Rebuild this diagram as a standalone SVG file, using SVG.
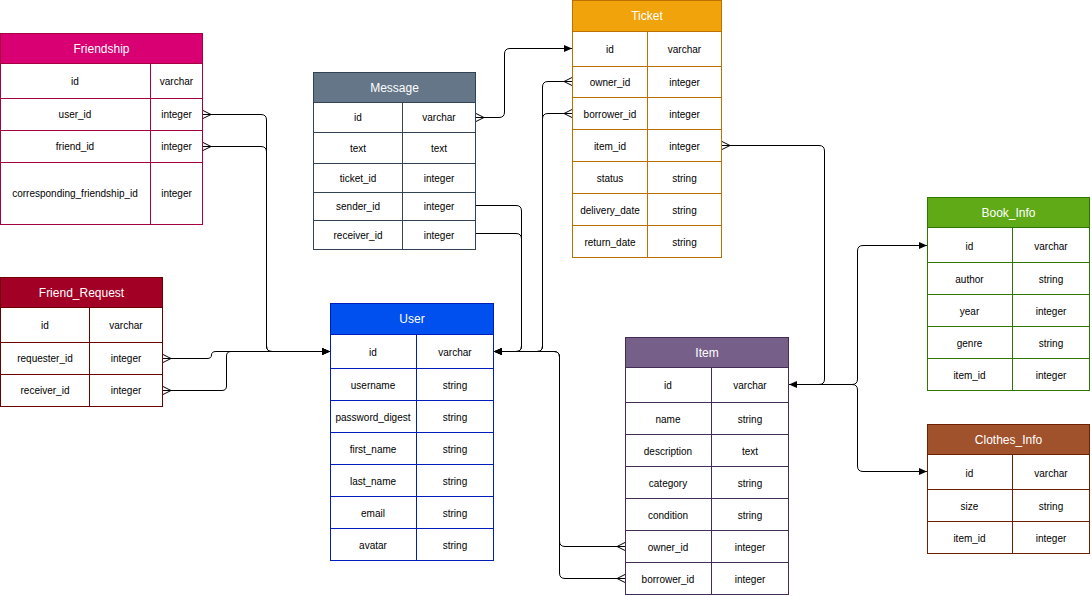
<svg xmlns="http://www.w3.org/2000/svg" width="1092" height="596" viewBox="0 0 1092 596">
<style>
text{font-family:"Liberation Sans",Arial,Helvetica,sans-serif;text-anchor:middle;dominant-baseline:central}
.h{font-size:12px;fill:#ffffff}
.c{font-size:10px;fill:#000000}
.bd{fill:#ffffff}
.ln{fill:none}
.friendship .hd{fill:#d80073}.friendship rect,.friendship path{stroke:#A50040}
.message .hd{fill:#647687}.message rect,.message path{stroke:#314354}
.ticket .hd{fill:#f0a30a}.ticket rect,.ticket path{stroke:#BD7000}
.freq .hd{fill:#a20025}.freq rect,.freq path{stroke:#6F0000}
.user .hd{fill:#0050ef}.user rect,.user path{stroke:#001DBC}
.item .hd{fill:#76608a}.item rect,.item path{stroke:#432D57}
.book .hd{fill:#60a917}.book rect,.book path{stroke:#2D7600}
.clothes .hd{fill:#a0522d}.clothes rect,.clothes path{stroke:#6D1F00}
.edge{fill:none;stroke:#000000;stroke-width:1}
</style>
<defs>
<marker id="arrow" viewBox="-10 -6 12 12" refX="0" refY="0" markerWidth="12" markerHeight="12" markerUnits="userSpaceOnUse" orient="auto">
<path d="M0,0 L-8,-3.5 L-8,3.5 Z" fill="#000000"/>
</marker>
<marker id="many" viewBox="-10 -6 12 12" refX="0" refY="0" markerWidth="12" markerHeight="12" markerUnits="userSpaceOnUse" orient="auto-start-reverse">
<path d="M0,-4 L-8,0 L0,4" fill="none" stroke="#000000" stroke-width="1"/>
</marker>
</defs>
<rect x="0" y="0" width="1092" height="596" fill="#ffffff"/>

<g id="connectors">
<path class="edge" marker-start="url(#many)" marker-end="url(#arrow)" d="M203,114.5 H261 Q266.5,114.5 266.5,120 V346 Q266.5,351.5 272,351.5 H330"/>
<path class="edge" marker-start="url(#many)" marker-end="url(#arrow)" d="M203,146.5 H261 Q266.5,146.5 266.5,152 V346 Q266.5,351.5 272,351.5 H330"/>
<path class="edge" marker-start="url(#many)" marker-end="url(#arrow)" d="M163,358.5 H207 Q211.5,358.5 211.5,355 Q211.5,351.5 216,351.5 H330"/>
<path class="edge" marker-start="url(#many)" marker-end="url(#arrow)" d="M163,390.5 H222 Q226.5,390.5 226.5,386 V356 Q226.5,351.5 231,351.5 H330"/>
<path class="edge" marker-end="url(#arrow)" d="M476,205.5 H516 Q521.5,205.5 521.5,211 V346 Q521.5,351.5 516,351.5 H494"/>
<path class="edge" marker-end="url(#arrow)" d="M476,233.5 H516 Q521.5,233.5 521.5,239 V346 Q521.5,351.5 516,351.5 H494"/>
<path class="edge" marker-start="url(#many)" marker-end="url(#arrow)" d="M572,81.5 H548 Q542.5,81.5 542.5,87 V346 Q542.5,351.5 537,351.5 H494"/>
<path class="edge" marker-start="url(#many)" marker-end="url(#arrow)" d="M572,113.5 H548 Q542.5,113.5 542.5,119 V346 Q542.5,351.5 537,351.5 H494"/>
<path class="edge" marker-start="url(#many)" marker-end="url(#arrow)" d="M625,546.5 H565 Q559.5,546.5 559.5,541 V357 Q559.5,351.5 554,351.5 H494"/>
<path class="edge" marker-start="url(#many)" marker-end="url(#arrow)" d="M625,578.5 H565 Q559.5,578.5 559.5,573 V357 Q559.5,351.5 554,351.5 H494"/>
<path class="edge" marker-start="url(#many)" marker-end="url(#arrow)" d="M476,117.5 H499 Q504.5,117.5 504.5,112 V54 Q504.5,48.5 510,48.5 H572"/>
<path class="edge" marker-start="url(#many)" marker-end="url(#arrow)" d="M722,145.5 H819 Q824.5,145.5 824.5,151 V379 Q824.5,384.5 819,384.5 H789"/>
<path class="edge" marker-end="url(#arrow)" d="M789,384.5 H852 Q857.5,384.5 857.5,379 V251 Q857.5,245.5 863,245.5 H927"/>
<path class="edge" marker-end="url(#arrow)" d="M789,384.5 H852 Q857.5,384.5 857.5,390 V466 Q857.5,471.5 863,471.5 H927"/>
</g>

<g id="friendship" class="friendship">
<rect class="hd" x="0.5" y="33.5" width="202" height="30"/>
<rect class="bd" x="0.5" y="63.5" width="202" height="161"/>
<path class="ln" d="M0.5,98.5H202.5M0.5,130.5H202.5M0.5,162.5H202.5M150.5,63.5V224.5"/>
<text class="h" x="101.5" y="48.5">Friendship</text>
<text class="c" x="75" y="81">id</text><text class="c" x="176.5" y="81">varchar</text>
<text class="c" x="75" y="114.5">user_id</text><text class="c" x="176.5" y="114.5">integer</text>
<text class="c" x="75" y="146.5">friend_id</text><text class="c" x="176.5" y="146.5">integer</text>
<text class="c" x="75" y="193.5">corresponding_friendship_id</text><text class="c" x="176.5" y="193.5">integer</text>
</g>

<g id="message" class="message">
<rect class="hd" x="313.5" y="72.5" width="162" height="30"/>
<rect class="bd" x="313.5" y="102.5" width="162" height="147"/>
<path class="ln" d="M313.5,132.5H475.5M313.5,163.5H475.5M313.5,192.5H475.5M313.5,220.5H475.5M402.5,102.5V249.5"/>
<text class="h" x="394.5" y="87.5">Message</text>
<text class="c" x="358" y="117.5">id</text><text class="c" x="439" y="117.5">varchar</text>
<text class="c" x="358" y="148">text</text><text class="c" x="439" y="148">text</text>
<text class="c" x="358" y="178">ticket_id</text><text class="c" x="439" y="178">integer</text>
<text class="c" x="358" y="206">sender_id</text><text class="c" x="439" y="206">integer</text>
<text class="c" x="358" y="235">receiver_id</text><text class="c" x="439" y="235">integer</text>
</g>

<g id="ticket" class="ticket">
<rect class="hd" x="572.5" y="0.5" width="149" height="31"/>
<rect class="bd" x="572.5" y="31.5" width="149" height="226"/>
<path class="ln" d="M572.5,66.5H721.5M572.5,97.5H721.5M572.5,129.5H721.5M572.5,161.5H721.5M572.5,193.5H721.5M572.5,225.5H721.5M647.5,31.5V257.5"/>
<text class="h" x="647" y="16">Ticket</text>
<text class="c" x="610" y="49">id</text><text class="c" x="684.5" y="49">varchar</text>
<text class="c" x="610" y="82">owner_id</text><text class="c" x="684.5" y="82">integer</text>
<text class="c" x="610" y="114">borrower_id</text><text class="c" x="684.5" y="114">integer</text>
<text class="c" x="610" y="146">item_id</text><text class="c" x="684.5" y="146">integer</text>
<text class="c" x="610" y="178">status</text><text class="c" x="684.5" y="178">string</text>
<text class="c" x="610" y="210">delivery_date</text><text class="c" x="684.5" y="210">string</text>
<text class="c" x="610" y="242">return_date</text><text class="c" x="684.5" y="242">string</text>
</g>

<g id="friend_request" class="freq">
<rect class="hd" x="0.5" y="277.5" width="162" height="30"/>
<rect class="bd" x="0.5" y="307.5" width="162" height="99"/>
<path class="ln" d="M0.5,342.5H162.5M0.5,374.5H162.5M89.5,307.5V406.5"/>
<text class="h" x="81.5" y="292.5">Friend_Request</text>
<text class="c" x="45" y="325.5">id</text><text class="c" x="126" y="325.5">varchar</text>
<text class="c" x="45" y="358.5">requester_id</text><text class="c" x="126" y="358.5">integer</text>
<text class="c" x="45" y="390.5">receiver_id</text><text class="c" x="126" y="390.5">integer</text>
</g>

<g id="user" class="user">
<rect class="hd" x="330.5" y="303.5" width="163" height="31"/>
<rect class="bd" x="330.5" y="334.5" width="163" height="226"/>
<path class="ln" d="M330.5,368.5H493.5M330.5,400.5H493.5M330.5,432.5H493.5M330.5,464.5H493.5M330.5,496.5H493.5M330.5,528.5H493.5M416.5,334.5V560.5"/>
<text class="h" x="412" y="319">User</text>
<text class="c" x="373" y="352">id</text><text class="c" x="455" y="352">varchar</text>
<text class="c" x="373" y="385">username</text><text class="c" x="455" y="385">string</text>
<text class="c" x="373" y="417">password_digest</text><text class="c" x="455" y="417">string</text>
<text class="c" x="373" y="449">first_name</text><text class="c" x="455" y="449">string</text>
<text class="c" x="373" y="481">last_name</text><text class="c" x="455" y="481">string</text>
<text class="c" x="373" y="513">email</text><text class="c" x="455" y="513">string</text>
<text class="c" x="373" y="545">avatar</text><text class="c" x="455" y="545">string</text>
</g>

<g id="item" class="item">
<rect class="hd" x="625.5" y="337.5" width="163" height="30"/>
<rect class="bd" x="625.5" y="367.5" width="163" height="227"/>
<path class="ln" d="M625.5,402.5H788.5M625.5,434.5H788.5M625.5,466.5H788.5M625.5,498.5H788.5M625.5,530.5H788.5M625.5,562.5H788.5M711.5,367.5V594.5"/>
<text class="h" x="707" y="352.5">Item</text>
<text class="c" x="668" y="385">id</text><text class="c" x="750" y="385">varchar</text>
<text class="c" x="668" y="419">name</text><text class="c" x="750" y="419">string</text>
<text class="c" x="668" y="451">description</text><text class="c" x="750" y="451">text</text>
<text class="c" x="668" y="483">category</text><text class="c" x="750" y="483">string</text>
<text class="c" x="668" y="515">condition</text><text class="c" x="750" y="515">string</text>
<text class="c" x="668" y="547">owner_id</text><text class="c" x="750" y="547">integer</text>
<text class="c" x="668" y="579">borrower_id</text><text class="c" x="750" y="579">integer</text>
</g>

<g id="book_info" class="book">
<rect class="hd" x="927.5" y="197.5" width="162" height="30"/>
<rect class="bd" x="927.5" y="227.5" width="162" height="163"/>
<path class="ln" d="M927.5,262.5H1089.5M927.5,294.5H1089.5M927.5,326.5H1089.5M927.5,358.5H1089.5M1012.5,227.5V390.5"/>
<text class="h" x="1008.5" y="212.5">Book_Info</text>
<text class="c" x="969.5" y="246">id</text><text class="c" x="1051" y="246">varchar</text>
<text class="c" x="969.5" y="279">author</text><text class="c" x="1051" y="279">string</text>
<text class="c" x="969.5" y="311">year</text><text class="c" x="1051" y="311">integer</text>
<text class="c" x="969.5" y="343">genre</text><text class="c" x="1051" y="343">string</text>
<text class="c" x="969.5" y="375">item_id</text><text class="c" x="1051" y="375">integer</text>
</g>

<g id="clothes_info" class="clothes">
<rect class="hd" x="927.5" y="424.5" width="162" height="30"/>
<rect class="bd" x="927.5" y="454.5" width="162" height="99"/>
<path class="ln" d="M927.5,489.5H1089.5M927.5,521.5H1089.5M1012.5,454.5V553.5"/>
<text class="h" x="1008.5" y="439.5">Clothes_Info</text>
<text class="c" x="969.5" y="473">id</text><text class="c" x="1051" y="473">varchar</text>
<text class="c" x="969.5" y="506">size</text><text class="c" x="1051" y="506">string</text>
<text class="c" x="969.5" y="538">item_id</text><text class="c" x="1051" y="538">integer</text>
</g>
</svg>
